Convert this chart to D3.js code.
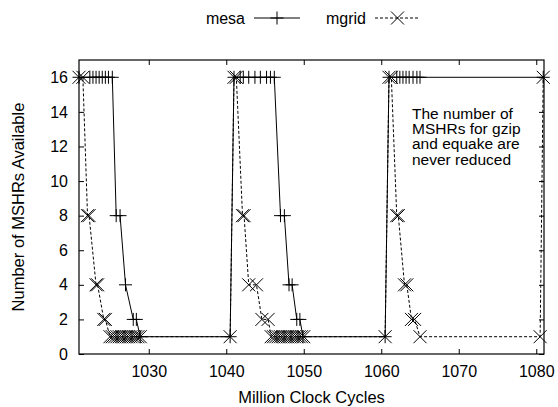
<!DOCTYPE html>
<html>
<head>
<meta charset="utf-8">
<script src="https://cdn.jsdelivr.net/npm/d3@7"></script>
<style>
  body { margin: 0; background: #fff; }
  text { font-family: "Liberation Sans", Arial, Helvetica, sans-serif; fill: #000; }
</style>
</head>
<body>
<div id="chart"></div>
<script>
// values
const mesaX = [1021.0, 1022.4, 1022.8, 1023.2, 1023.6, 1024.0, 1024.4, 1024.8, 1025.3,
  1025.8, 1026.3, 1027.0, 1028.0, 1028.4, 1028.9, 1040.5,
  1041.0, 1041.8, 1042.2, 1042.9, 1043.7, 1044.4, 1045.2, 1045.7, 1046.2,
  1047.0, 1047.5, 1048.1, 1048.5, 1049.1, 1049.5, 1049.9, 1060.5,
  1061.0, 1062.0, 1062.4, 1062.8, 1063.2, 1063.6, 1064.1, 1064.6, 1065.0, 1080.9]
const mesaY = [16, 16, 16, 16, 16, 16, 16, 16, 16,
  8, 8, 4, 2, 2, 1, 1,
  16, 16, 16, 16, 16, 16, 16, 16, 16,
  8, 8, 4, 4, 2, 2, 1, 1,
  16, 16, 16, 16, 16, 16, 16, 16, 16, 16]

const mgridX = [1021.0, 1021.5, 1022.1, 1022.3, 1023.2, 1023.4, 1024.2, 1024.4,
  1025.0, 1025.3, 1025.6, 1025.9, 1026.2, 1026.5, 1026.8, 1027.1, 1027.4, 1027.7, 1028.0, 1028.3, 1028.6, 1028.9,
  1040.5, 1041.0, 1041.3, 1042.1, 1042.3, 1042.9, 1043.9, 1044.6, 1045.4,
  1045.8, 1046.1, 1046.4, 1046.7, 1047.0, 1047.3, 1047.6, 1047.9, 1048.2, 1048.5, 1048.8, 1049.1, 1049.4, 1049.7, 1050.0,
  1060.5, 1061.0, 1061.3, 1062.0, 1062.2, 1063.0, 1063.3, 1063.9, 1064.3, 1065.0, 1080.5, 1080.9]
const mgridY = [16, 16, 8, 8, 4, 4, 2, 2,
  1, 1, 1, 1, 1, 1, 1, 1, 1, 1, 1, 1, 1, 1,
  1, 16, 16, 8, 8, 4, 4, 2, 2,
  1, 1, 1, 1, 1, 1, 1, 1, 1, 1, 1, 1, 1, 1, 1,
  1, 16, 16, 8, 8, 4, 4, 2, 2, 1, 1, 16]

const yTicks = [0, 2, 4, 6, 8, 10, 12, 14, 16]
const xTicks = [1030, 1040, 1050, 1060, 1070, 1080]
const noteLines = ["The number of", "MSHRs for gzip", "and equake are", "never reduced"]

let width = 558, height = 407
let margin = {top: 60, right: 14, bottom: 53, left: 79}
let w = width - margin.left - margin.right,
    h = height - margin.top - margin.bottom

let svg = d3.select("#chart").append("svg")
  .attr("width", width).attr("height", height)

let g = svg.append("g")
  .attr("transform", "translate(" + margin.left + "," + margin.top + ")")

let xScale = d3.scaleLinear().domain([1021, 1081]).range([0, w])
let yScale = d3.scaleLinear().domain([0, 17]).range([h, 0])

// axes, gnuplot style: inward ticks on all four sides
g.append("g").attr("transform", "translate(0," + h + ")")
  .call(d3.axisBottom(xScale).tickValues(xTicks).tickFormat(d3.format("d"))
    .tickSizeInner(-5).tickSizeOuter(0).tickPadding(12))
g.append("g")
  .call(d3.axisTop(xScale).tickValues(xTicks).tickFormat("")
    .tickSizeInner(-5).tickSizeOuter(0))
g.append("g")
  .call(d3.axisLeft(yScale).tickValues(yTicks)
    .tickSizeInner(-5).tickSizeOuter(0).tickPadding(11))
g.append("g").attr("transform", "translate(" + w + ",0)")
  .call(d3.axisRight(yScale).tickValues(yTicks).tickFormat("")
    .tickSizeInner(-5).tickSizeOuter(0))

g.selectAll(".domain").remove()
g.selectAll(".tick line").attr("stroke", "#000").attr("stroke-width", 1)
g.selectAll(".tick text").attr("font-size", 16)

g.append("rect")
  .attr("width", w).attr("height", h)
  .attr("fill", "none").attr("stroke", "#000").attr("stroke-width", 1.2)

// series
let mesa = mesaX.map((x, i) => ({x: x, y: mesaY[i]}))
let mgrid = mgridX.map((x, i) => ({x: x, y: mgridY[i]}))

let line = d3.line().x(d => xScale(d.x)).y(d => yScale(d.y))
let ms = 6.5

function plus(sel) {
  sel.append("path").attr("d", "M" + (-ms) + ",0H" + ms + "M0," + (-ms) + "V" + ms)
}
function cross(sel) {
  sel.append("path").attr("d", "M" + (-ms) + "," + (-ms) + "L" + ms + "," + ms + "M" + (-ms) + "," + ms + "L" + ms + "," + (-ms))
}

g.append("path").datum(mesa)
  .attr("d", line).attr("fill", "none").attr("stroke", "#000").attr("stroke-width", 1)
g.append("path").datum(mgrid)
  .attr("d", line).attr("fill", "none").attr("stroke", "#000").attr("stroke-width", 1)
  .attr("stroke-dasharray", "3,2")

g.append("g").selectAll("g").data(mesa).join("g")
  .attr("transform", d => "translate(" + xScale(d.x) + "," + yScale(d.y) + ")")
  .attr("stroke", "#000").attr("stroke-width", 1).attr("fill", "none")
  .call(plus)
g.append("g").selectAll("g").data(mgrid).join("g")
  .attr("transform", d => "translate(" + xScale(d.x) + "," + yScale(d.y) + ")")
  .attr("stroke", "#000").attr("stroke-width", 1).attr("fill", "none")
  .call(cross)

// note
g.append("text")
  .attr("x", 333).attr("y", 58.5)
  .attr("font-size", 15.5)
  .selectAll("tspan").data(noteLines).join("tspan")
  .attr("x", 333).attr("dy", (d, i) => i == 0 ? 0 : 15.4)
  .text(d => d)

// axis titles
svg.append("text")
  .attr("transform", "translate(24," + (margin.top + h / 2) + ") rotate(-90)")
  .attr("text-anchor", "middle").attr("font-size", 16.5)
  .text("Number of MSHRs Available")
svg.append("text")
  .attr("x", margin.left + w / 2).attr("y", 402.5)
  .attr("text-anchor", "middle").attr("font-size", 16.5)
  .text("Million Clock Cycles")

// key
let key = svg.append("g").attr("transform", "translate(0,18)")
let keyItems = [
  {name: "mesa", x0: 254, x1: 300, dash: null, mark: plus},
  {name: "mgrid", x0: 375, x1: 420, dash: "3,2", mark: cross}
]
keyItems.forEach(k => {
  key.append("text").attr("x", k.x0 - 9).attr("y", 6)
    .attr("text-anchor", "end").attr("font-size", 16).text(k.name)
  key.append("line").attr("x1", k.x0).attr("x2", k.x1)
    .attr("stroke", "#000").attr("stroke-width", 1)
    .attr("stroke-dasharray", k.dash)
  key.append("g").attr("transform", "translate(" + (k.x0 + k.x1) / 2 + ",0)")
    .attr("stroke", "#000").attr("fill", "none").call(k.mark)
})
</script>
</body>
</html>
